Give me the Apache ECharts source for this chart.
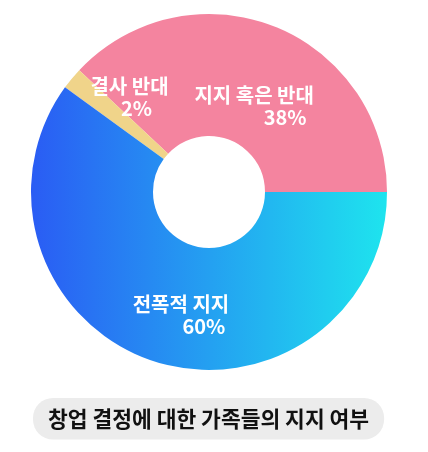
<!DOCTYPE html>
<html>
<head>
<meta charset="utf-8">
<script src="https://cdn.jsdelivr.net/npm/echarts@6/dist/echarts.min.js"></script>
<style>
  html, body { margin: 0; padding: 0; background: #fff; }
  #chart { width: 428px; height: 452px; }
</style>
</head>
<body>
<div id="chart"></div>
<script>
const titleText = '창업 결정에 대한 가족들의 지지 여부';
const categories = ['지지 혹은 반대', '결사 반대', '전폭적 지지'];
const shares = [38, 2, 60];

const sliceColors = [
    '#f4849f',
    '#f0d48a',
    new echarts.graphic.LinearGradient(0, 0, 1, 0, [
        { offset: 0, color: '#2a5cf4' },
        { offset: 1, color: '#1ee4ee' }
    ])
];
// nudge each label so it sits where the original put it
const labelPads = [
    { box: [52, 0, 0, 2], pct: 62 },
    { box: [0, 0, 36, 26], pct: 14 },
    { box: [18, 0, 0, 18], pct: 46 }
];

const chart = echarts.init(document.getElementById('chart'));

chart.setOption({
    animation: false,
    title: {
        text: titleText,
        left: 33,
        top: 398,
        padding: [10, 15],
        backgroundColor: '#ececec',
        borderRadius: 20,
        textStyle: {
            fontFamily: 'Noto Sans CJK KR',
            fontSize: 21.5,
            fontWeight: 'bold',
            color: '#111'
        }
    },
    series: [{
        type: 'pie',
        center: [209, 192],
        radius: [56, 178],
        startAngle: 0,
        clockwise: false,
        avoidLabelOverlap: false,
        labelLine: { show: false },
        data: categories.map((name, i) => ({
            name: name,
            value: shares[i],
            itemStyle: { color: sliceColors[i] },
            label: {
                show: true,
                position: 'inside',
                padding: labelPads[i].box,
                formatter: '{n|{b}}\n{p|{c}%}',
                rich: {
                    n: {
                        fontFamily: 'Noto Sans CJK KR',
                        fontSize: 20,
                        fontWeight: 'bold',
                        color: '#fff',
                        lineHeight: 22
                    },
                    p: {
                        fontFamily: 'Noto Sans CJK KR',
                        fontSize: 20,
                        fontWeight: 'bold',
                        color: '#fff',
                        lineHeight: 22,
                        padding: [0, 0, 0, labelPads[i].pct]
                    }
                }
            }
        }))
    }]
});
</script>
</body>
</html>
